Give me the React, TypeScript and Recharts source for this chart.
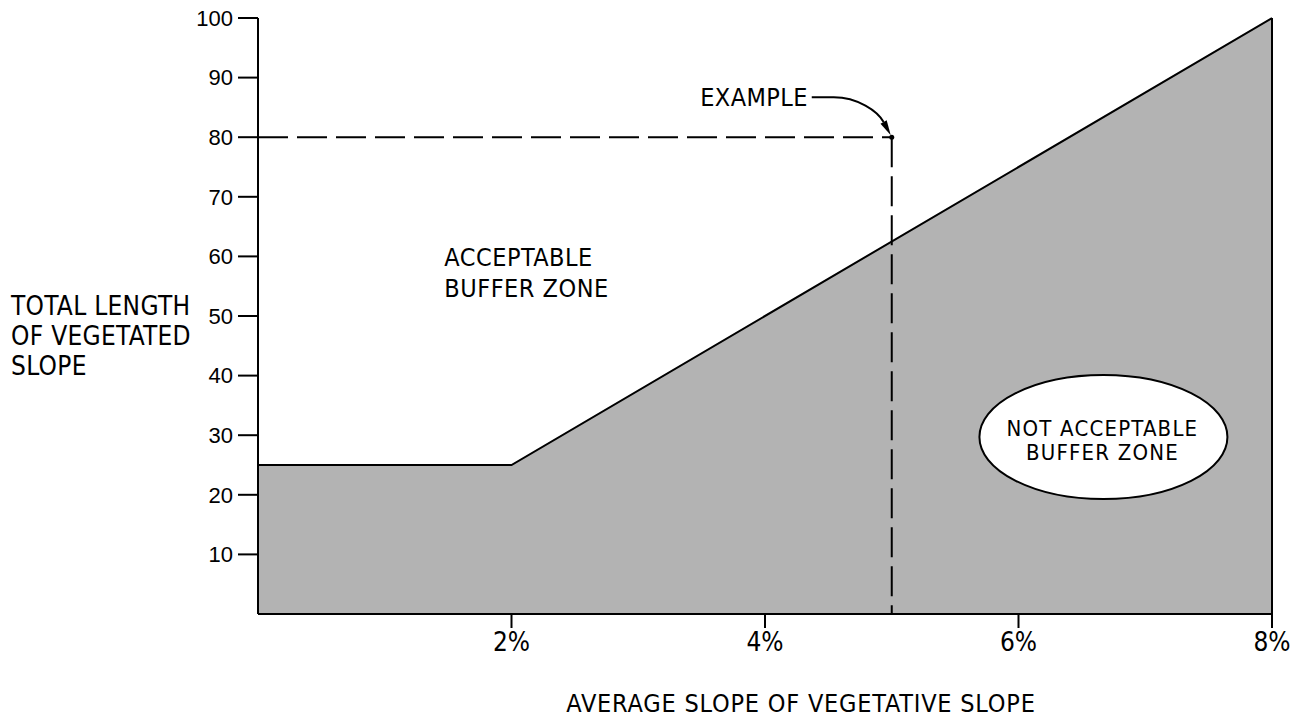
import { ComposedChart, Area, XAxis, YAxis, ReferenceLine, ReferenceDot } from 'recharts'

// slope (%) vs minimum total length of vegetated slope
const slopePct = [0, 2, 8]
const bufferLength = [25, 25, 100]
const xTicks = [2, 4, 6, 8]
const yTicks = [10, 20, 30, 40, 50, 60, 70, 80, 90, 100]
const exampleSlope = 5
const exampleLength = 80
const yLabelLines = ['TOTAL LENGTH', 'OF VEGETATED', 'SLOPE']
const xLabel = 'AVERAGE SLOPE OF VEGETATIVE SLOPE'
const okLines = ['ACCEPTABLE', 'BUFFER ZONE']
const notOkLines = ['NOT ACCEPTABLE', 'BUFFER ZONE']

const data = slopePct.map((s, i) => ({ slope: s, length: bufferLength[i] }))

const NARROW = '"Liberation Sans Narrow", "DejaVu Sans Condensed", sans-serif'
const SANS = '"Liberation Sans", Arial, sans-serif'

function YLabel({ viewBox }: any) {
  const mid = viewBox.y + viewBox.height / 2
  return (
    <text fontFamily={NARROW} fontSize={26} fill="#000" letterSpacing={0.3}>
      {yLabelLines.map((t, i) => (
        <tspan key={i} x={viewBox.x + 11} y={mid - 1 + i * 30}>
          {t}
        </tspan>
      ))}
    </text>
  )
}

function XLabel({ viewBox }: any) {
  return (
    <text
      x={viewBox.x + 543}
      y={viewBox.y + 98}
      textAnchor="middle"
      fontFamily={NARROW}
      fontSize={25}
      letterSpacing={0.8}
      fill="#000"
    >
      {xLabel}
    </text>
  )
}

function ExampleMark({ cx, cy }: any) {
  const tip = { x: cx - 1, y: cy - 2 }
  const c2 = { x: cx - 14, y: cy - 26 }
  const dx = tip.x - c2.x
  const dy = tip.y - c2.y
  const len = Math.hypot(dx, dy)
  const ux = dx / len
  const uy = dy / len
  const bx = tip.x - ux * 15
  const by = tip.y - uy * 15
  const px = -uy * 3.5
  const py = ux * 3.5
  return (
    <g>
      <circle cx={cx} cy={cy} r={2.5} fill="#000" />
      <path
        d={`M ${cx - 80} ${cy - 40} L ${cx - 58} ${cy - 40} C ${cx - 34} ${cy - 40}, ${c2.x} ${c2.y}, ${bx} ${by}`}
        fill="none"
        stroke="#000"
        strokeWidth={2}
      />
      <path d={`M ${tip.x} ${tip.y} L ${bx + px} ${by + py} L ${bx - px} ${by - py} Z`} fill="#000" />
      <text x={cx - 84} y={cy - 31} textAnchor="end" fontFamily={NARROW} fontSize={25} letterSpacing={0.4} fill="#000">
        EXAMPLE
      </text>
    </g>
  )
}

function OkLabel({ cx, cy }: any) {
  return (
    <text fontFamily={NARROW} fontSize={25} letterSpacing={0.5} fill="#000">
      {okLines.map((t, i) => (
        <tspan key={i} x={cx} y={cy + i * 31}>
          {t}
        </tspan>
      ))}
    </text>
  )
}

function NotOkLabel({ cx, cy }: any) {
  return (
    <g>
      <ellipse cx={cx} cy={cy} rx={124} ry={62} fill="#fff" stroke="#000" strokeWidth={2} />
      <text textAnchor="middle" fontFamily={NARROW} fontSize={22} letterSpacing={1.2} fill="#000">
        {notOkLines.map((t, i) => (
          <tspan key={i} x={cx - 1} y={cy - 1 + i * 24}>
            {t}
          </tspan>
        ))}
      </text>
    </g>
  )
}

export default function App() {
  return (
    <div style={{ position: 'absolute', left: 0, top: 0, background: '#fff' }}>
      <ComposedChart width={1299} height={719} data={data} margin={{ top: 18, right: 27, bottom: 0, left: 0 }}>
        <XAxis
          type="number"
          dataKey="slope"
          domain={[0, 8]}
          ticks={xTicks}
          tickFormatter={(v) => `${v}%`}
          height={105}
          tickSize={14}
          tickMargin={5}
          axisLine={{ stroke: '#000', strokeWidth: 2 }}
          tickLine={{ stroke: '#000', strokeWidth: 2 }}
          tick={{ fill: '#000', fontFamily: NARROW, fontSize: 26 }}
          label={{ content: XLabel }}
        />
        <YAxis
          type="number"
          domain={[0, 100]}
          ticks={yTicks}
          width={258}
          tickSize={20}
          tickMargin={5}
          axisLine={{ stroke: '#000', strokeWidth: 2 }}
          tickLine={{ stroke: '#000', strokeWidth: 2 }}
          tick={{ fill: '#000', fontFamily: SANS, fontSize: 22 }}
          label={{ content: YLabel }}
        />
        <Area
          type="linear"
          dataKey="length"
          fill="#b3b3b3"
          fillOpacity={1}
          stroke="#000"
          strokeWidth={2}
          isAnimationActive={false}
        />
        <ReferenceLine segment={[{ x: 8, y: 0 }, { x: 8, y: 100 }]} stroke="#000" strokeWidth={2} />
        <ReferenceLine
          segment={[{ x: 0, y: exampleLength }, { x: exampleSlope, y: exampleLength }]}
          stroke="#000"
          strokeWidth={2}
          strokeDasharray="30 9"
        />
        <ReferenceLine
          segment={[{ x: exampleSlope, y: exampleLength }, { x: exampleSlope, y: 0 }]}
          stroke="#000"
          strokeWidth={2}
          strokeDasharray="30 9"
        />
        <ReferenceDot x={exampleSlope} y={exampleLength} r={3} shape={ExampleMark} />
        <ReferenceDot x={1.47} y={58.4} r={1} shape={OkLabel} />
        <ReferenceDot x={6.67} y={29.7} r={1} shape={NotOkLabel} />
      </ComposedChart>
    </div>
  )
}
